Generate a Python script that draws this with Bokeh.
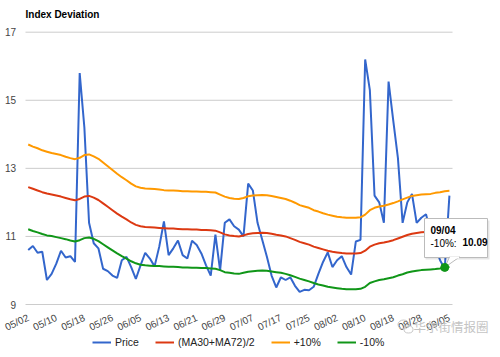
import math
from bokeh.plotting import figure
from bokeh.models import Range1d, Legend, LegendItem
from bokeh.core.properties import value
from bokeh.embed import file_html
from bokeh.resources import INLINE

# ---------------- data ----------------
tick_labels = ["05/02", "05/10", "05/18", "05/26", "06/05", "06/13", "06/21", "06/29",
               "07/07", "07/17", "07/25", "08/02", "08/10", "08/18", "08/28", "09/05"]
label_step = 6  # trading days between labelled dates

price = [10.60, 10.72, 10.52, 10.55, 9.72, 9.90, 10.20, 10.58, 10.38, 10.42,
         10.25, 15.80, 14.20, 11.40, 10.80, 10.65, 10.05, 9.98, 9.85, 9.78,
         10.30, 10.40, 10.10, 9.75, 10.15, 10.52, 10.35, 10.12, 10.70, 11.44,
         10.45, 10.65, 10.88, 10.45, 10.35, 10.87, 10.75, 10.50, 10.15, 9.85,
         11.05, 10.00, 11.40, 11.50, 11.30, 11.20, 11.00, 12.55, 12.35, 11.40,
         10.90, 10.40, 9.85, 9.50, 9.80, 9.72, 9.80, 9.55, 9.37, 9.43,
         9.42, 9.52, 9.90, 10.25, 10.53, 10.10, 10.30, 10.42, 10.10, 9.88,
         10.85, 10.90, 16.20, 15.30, 12.20, 12.00, 11.40, 15.55, 14.40, 13.30,
         11.40, 12.00, 12.25, 11.40, 11.55, 11.65, 11.10, 10.70, 10.30, 10.05,
         12.20]

ma_mid = [12.45, 12.40, 12.35, 12.30, 12.26, 12.23, 12.20, 12.17, 12.13, 12.09,
          12.06, 12.10, 12.17, 12.19, 12.14, 12.07, 11.97, 11.87, 11.77, 11.67,
          11.58, 11.50, 11.41, 11.34, 11.30, 11.28, 11.27, 11.26, 11.25, 11.24,
          11.23, 11.23, 11.22, 11.21, 11.21, 11.20, 11.20, 11.19, 11.19, 11.18,
          11.17, 11.12, 11.06, 11.03, 11.01, 11.00, 11.03, 11.07, 11.09, 11.10,
          11.11, 11.10, 11.08, 11.05, 11.03, 11.00, 10.95, 10.90, 10.84, 10.80,
          10.76, 10.70, 10.66, 10.62, 10.58, 10.55, 10.53, 10.51, 10.50, 10.50,
          10.50, 10.51, 10.58, 10.70, 10.76, 10.80, 10.82, 10.85, 10.89, 10.94,
          10.99, 11.04, 11.08, 11.10, 11.12, 11.13, 11.14, 11.16, 11.18, 11.21,
          11.22]

plus10 = [13.70, 13.64, 13.59, 13.53, 13.49, 13.45, 13.42, 13.39, 13.34, 13.30,
          13.27, 13.31, 13.39, 13.41, 13.35, 13.28, 13.17, 13.06, 12.95, 12.84,
          12.74, 12.65, 12.55, 12.47, 12.43, 12.41, 12.40, 12.39, 12.38, 12.36,
          12.35, 12.35, 12.34, 12.33, 12.33, 12.32, 12.32, 12.31, 12.31, 12.30,
          12.29, 12.23, 12.17, 12.13, 12.11, 12.10, 12.13, 12.18, 12.20, 12.21,
          12.22, 12.21, 12.19, 12.16, 12.13, 12.10, 12.05, 11.99, 11.92, 11.88,
          11.84, 11.77, 11.73, 11.68, 11.64, 11.61, 11.58, 11.56, 11.55, 11.55,
          11.55, 11.56, 11.64, 11.77, 11.84, 11.88, 11.90, 11.94, 11.98, 12.03,
          12.09, 12.14, 12.19, 12.21, 12.23, 12.24, 12.25, 12.28, 12.30, 12.33,
          12.34]

minus10 = [11.21, 11.16, 11.12, 11.07, 11.03, 11.01, 10.98, 10.95, 10.92, 10.88,
           10.85, 10.89, 10.95, 10.97, 10.93, 10.86, 10.77, 10.68, 10.59, 10.50,
           10.42, 10.35, 10.27, 10.21, 10.17, 10.15, 10.14, 10.13, 10.13, 10.12,
           10.11, 10.11, 10.10, 10.09, 10.09, 10.08, 10.08, 10.07, 10.07, 10.06,
           10.05, 10.01, 9.95, 9.93, 9.91, 9.90, 9.93, 9.96, 9.98, 9.99,
           10.00, 9.99, 9.97, 9.95, 9.93, 9.90, 9.86, 9.81, 9.76, 9.72,
           9.68, 9.63, 9.59, 9.56, 9.52, 9.50, 9.48, 9.46, 9.45, 9.45,
           9.45, 9.46, 9.52, 9.63, 9.68, 9.72, 9.74, 9.77, 9.80, 9.85,
           9.89, 9.94, 9.97, 9.99, 10.01, 10.02, 10.03, 10.04, 10.06, 10.09,
           10.10]

y_ticks = [9, 11, 13, 15, 17]
y_tick_labels = ["9", "11", "13", "15", "17"]
series_names = ["Price", "(MA30+MA72)/2", "+10%", "-10%"]
chart_title = "Index Deviation"
hover_index = 89
hover_date = "09/04"
watermark = "华尔街情报圈"

# ---------------- layout (pixels) ----------------
W, H = 492, 349
LEFT, TOP = 25, 31.7          # plot area origin
PLOT_W, PLOT_H = 427, 272.3   # visible chart area
PPX = 4.68                    # pixels per trading day
X0 = -0.58                    # index at the left edge of the plot area
Y_MIN, Y_MAX = 9, 17
PPY = PLOT_H / (Y_MAX - Y_MIN)


def dx(px):
    return X0 + (px - LEFT) / PPX


def dy(py):
    return Y_MAX - (py - TOP) / PPY


FONT = "Liberation Sans"
colors = ["#3366cc", "#dc3912", "#ff9900", "#109618"]

x = list(range(len(price)))
tick_pos = [i * label_step for i in range(len(tick_labels))]

p = figure(width=W, height=H, output_backend="svg", toolbar_location=None,
           x_axis_type=None, y_axis_type=None,
           x_range=Range1d(dx(0), dx(W)), y_range=Range1d(dy(H), dy(0)),
           min_border_left=0, min_border_right=0, min_border_top=0,
           min_border_bottom=0)
p.outline_line_color = None
p.background_fill_color = "white"
p.border_fill_color = "white"
p.title.visible = False

# title
p.text(x=[dx(LEFT)], y=[dy(14)], text=[chart_title], text_align="left",
       text_baseline="alphabetic", text_font=value(FONT), text_font_size="10px",
       text_font_style="bold", text_color="#000000")

# horizontal grid lines limited to the chart area
gx0, gx1 = dx(LEFT), dx(LEFT + PLOT_W)
p.segment(x0=[gx0] * len(y_ticks), y0=y_ticks, x1=[gx1] * len(y_ticks), y1=y_ticks,
          line_color="#cccccc", line_width=1)

# value labels on the left
p.text(x=[dx(15.5)] * len(y_ticks), y=y_ticks, text=y_tick_labels,
       text_align="right", text_baseline="middle", text_font=value(FONT),
       text_font_size="10px", text_color="#444444")

# slanted date labels at the tick positions
p.text(x=tick_pos, y=[dy(TOP + PLOT_H + 12.5)] * len(tick_pos), text=tick_labels,
       angle=math.radians(25), text_align="right", text_baseline="middle",
       text_font=value(FONT), text_font_size="10px", text_color="#444444")

# series
r_price = p.line(x, price, line_color=colors[0], line_width=2)
r_mid = p.line(x, ma_mid, line_color=colors[1], line_width=2)
r_plus = p.line(x, plus10, line_color=colors[2], line_width=2)
r_minus = p.line(x, minus10, line_color=colors[3], line_width=2)

# legend along the bottom
legend = Legend(items=[LegendItem(label=n, renderers=[r]) for n, r in
                       zip(series_names, [r_price, r_mid, r_plus, r_minus])],
                orientation="horizontal", location=(92, 1),
                border_line_color=None, background_fill_alpha=0,
                label_text_font=FONT, label_text_font_size="10.5px",
                label_text_color="#222222",
                glyph_width=19, glyph_height=12, label_height=13,
                label_standoff=4, spacing=16, padding=0, margin=0)
p.add_layout(legend)

# watermark (WeChat-style icon + text)
p.ellipse(x=[dx(403), dx(408)], y=[dy(324), dy(329)], width=[11, 9], height=[9, 7],
          width_units="screen", height_units="screen",
          fill_color=None, line_color="#c8c8c8", line_width=1)
p.text(x=[dx(413)], y=[dy(326)], text=[watermark], text_align="left",
       text_baseline="middle", text_font=value("Noto Sans CJK SC"),
       text_font_size="12.5px", text_color="#c4c4c4")

# tooltip at the hovered point
hx, hy = x[hover_index], minus10[hover_index]
hv = f"{minus10[hover_index]:.2f}"
p.quad(left=[dx(425)], right=[dx(489)], top=[dy(220)], bottom=[dy(259)],
       fill_color="#000000", fill_alpha=0.10, line_color=None)
p.quad(left=[dx(424)], right=[dx(487)], top=[dy(218)], bottom=[dy(257)],
       fill_color="white", line_color="#bbbbbb", line_width=1)
p.patch(x=[dx(449), dx(459), hx], y=[dy(256.5), dy(256.5), hy],
        fill_color="white", line_color="#bbbbbb", line_width=1)
p.segment(x0=[dx(449.5)], y0=[dy(257)], x1=[dx(458.5)], y1=[dy(257)],
          line_color="white", line_width=2)
p.text(x=[dx(430)], y=[dy(224.5)], text=[hover_date], text_align="left",
       text_baseline="top", text_font=value(FONT), text_font_size="10px",
       text_font_style="bold", text_color="#000000")
p.text(x=[dx(430)], y=[dy(237.5)], text=["-10%: "], text_align="left",
       text_baseline="top", text_font=value(FONT), text_font_size="10px",
       text_color="#000000")
p.text(x=[dx(462)], y=[dy(237.5)], text=[hv], text_align="left",
       text_baseline="top", text_font=value(FONT), text_font_size="10px",
       text_font_style="bold", text_color="#000000")

# highlighted point
p.scatter([hx], [hy], size=8, fill_color=colors[3], line_color=colors[3])

open("out.html", "w").write(file_html(p, INLINE))
